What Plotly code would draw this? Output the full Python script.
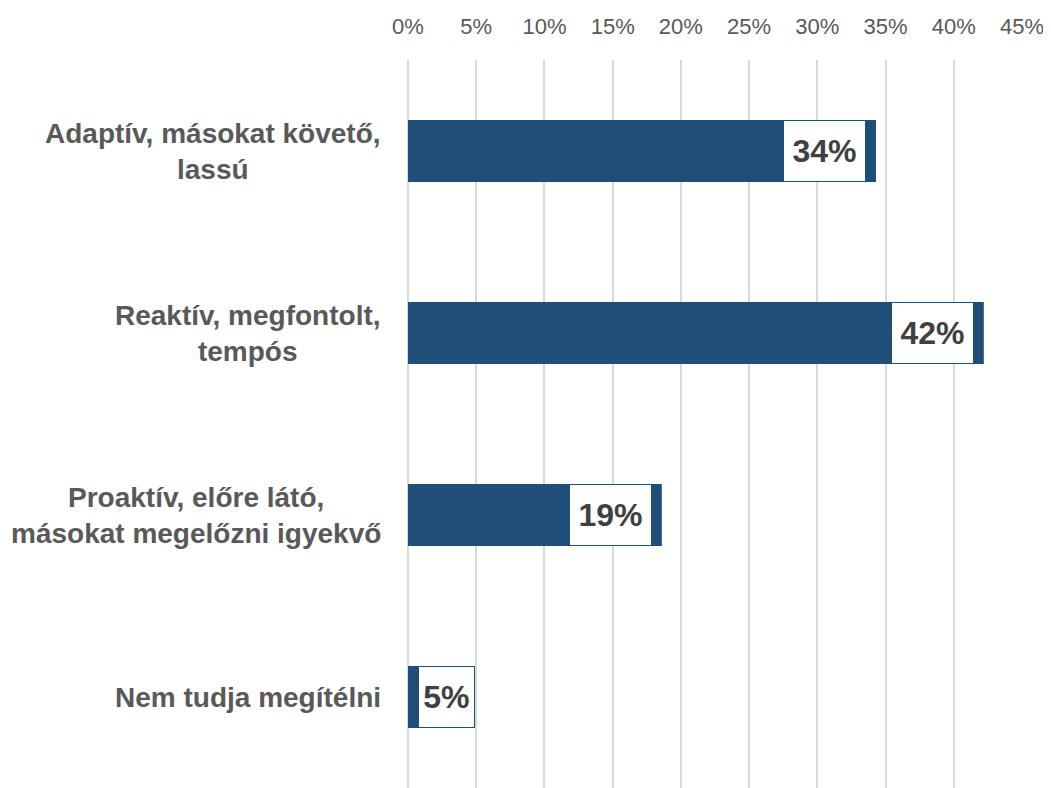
import plotly.graph_objects as go

categories = ["Adaptív, másokat követő,<br>lassú",
              "Reaktív, megfontolt,<br>tempós",
              "Proaktív, előre látó,<br>másokat megelőzni igyekvő",
              "Nem tudja megítélni"]
values = [34.3, 42.2, 18.6, 4.9]
tick_vals = [0, 5, 10, 15, 20, 25, 30, 35, 40, 45]
tick_text = [f"{v}%" for v in tick_vals]

BAR = "#1F4E79"
# page body has an 8px default margin, so the figure is drawn 8px smaller
L, R, T, B = 400, 29, 52, 0
W, H = 1043, 780
xmax = 45
px_per_unit = (W - L - R) / xmax

fig = go.Figure()
fig.add_trace(go.Bar(
    y=categories, x=values, orientation="h",
    marker=dict(color=BAR, line=dict(width=0)),
    width=0.34, hoverinfo="skip"))

box_w = 83
margin_px = 10
for cat, v in zip(categories, values):
    bar_px = v * px_per_unit
    if bar_px - margin_px >= box_w:
        w = box_w
        shift = -margin_px
    else:
        w = bar_px - margin_px
        shift = 0
    fig.add_annotation(
        x=v, y=cat, xref="x", yref="y", xanchor="right", xshift=shift,
        text=f"<b>{round(v)}%</b>", showarrow=False,
        width=w - 2, height=60, borderpad=0,
        bgcolor="white", bordercolor=BAR, borderwidth=1,
        font=dict(family="Liberation Sans, Arial", size=32, color="#404040"))
    fig.add_annotation(
        x=0, y=cat, xref="paper", yref="y", xanchor="right", xshift=-25,
        text=f"<b>{cat}</b>", showarrow=False, align="center",
        font=dict(family="Liberation Sans, Arial", size=28, color="#595959"))

fig.update_layout(
    width=W, height=H,
    margin=dict(l=L, r=R, t=T, b=B, autoexpand=False),
    plot_bgcolor="white", paper_bgcolor="white",
    showlegend=False,
    xaxis=dict(range=[0, xmax], side="top", tickvals=tick_vals, ticktext=tick_text,
               automargin=False,
               showgrid=True, gridcolor="#D9D9D9", gridwidth=2,
               zeroline=True, zerolinecolor="#D9D9D9", zerolinewidth=2,
               showline=False, ticks="", ticklabelstandoff=21,
               tickfont=dict(family="Liberation Sans, Arial", size=22, color="#595959")),
    yaxis=dict(categoryorder="array", categoryarray=categories,
               autorange="reversed", showticklabels=False, showgrid=False,
               automargin=False,
               zeroline=False, showline=False, ticks=""),
)

fig.write_html("out.html")
